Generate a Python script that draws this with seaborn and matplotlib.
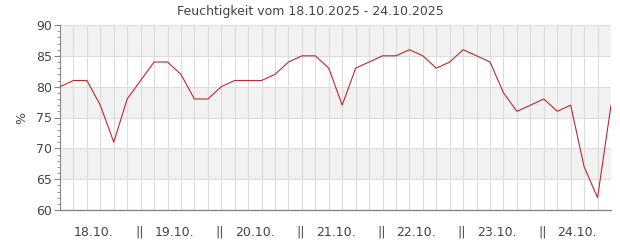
import matplotlib
matplotlib.use("Agg")
import matplotlib.pyplot as plt
import seaborn as sns
import pandas as pd
import numpy as np
from matplotlib.ticker import MultipleLocator

title = "Feuchtigkeit vom 18.10.2025 - 24.10.2025"
ylabel = "%"
day_labels = ["18.10.", "19.10.", "20.10.", "21.10.", "22.10.", "23.10.", "24.10."]
humidity = [80, 81, 81, 77, 71, 78,
            81, 84, 84, 82, 78, 78,
            80, 81, 81, 81, 82, 84,
            85, 85, 83, 77, 83, 84,
            85, 85, 86, 85, 83, 84,
            86, 85, 84, 79, 76, 77,
            78, 76, 77, 67, 62, 77]

sns.set_theme(style="white")
plt.rcParams['font.family'] = ['DejaVu Sans']

df = pd.DataFrame({"idx": np.arange(len(humidity)), "val": humidity})

fig = plt.figure(figsize=(6.2, 2.5), dpi=100)
ax = fig.add_axes([60/620, 40/250, 551/620, 185/250])

# alternating bands
for lo in (65, 75, 85):
    ax.axhspan(lo, lo + 5, color="#f2f2f2", zorder=0, lw=0)

sns.lineplot(data=df, x="idx", y="val", ax=ax, color="#c0282d", lw=0.8, zorder=3)

ax.set_xlim(0, len(humidity) - 1)
ax.set_ylim(60, 90)
ax.set_yticks([60, 65, 70, 75, 80, 85, 90])
ax.yaxis.set_minor_locator(MultipleLocator(1))
ax.set_xticks(np.arange(len(humidity)))
ax.set_xticklabels([])
ax.grid(True, axis="both", which="major", color="#dddddd", lw=0.8, zorder=1)
ax.tick_params(axis="x", length=0)
ax.tick_params(axis="y", which="major", length=4, width=0.8, color="#888888",
               labelsize=9, labelcolor="#444444", pad=2, left=True)
ax.tick_params(axis="y", which="minor", length=2, width=0.6, color="#888888", left=True)

for s in ("top", "right"):
    ax.spines[s].set_visible(False)
ax.spines["left"].set_color("#888888")
ax.spines["bottom"].set_color("#888888")
ax.spines["left"].set_linewidth(0.8)
ax.spines["bottom"].set_linewidth(1.0)

ax.set_xlabel("")
ax.set_ylabel(ylabel, fontsize=9, color="#444444", labelpad=5)

trans = ax.get_xaxis_transform()
for i, lab in enumerate(day_labels):
    ax.text(6 * i + 2.5, -0.12, lab, transform=trans, ha="center", va="center",
            fontsize=9, color="#444444")
    if i < len(day_labels) - 1:
        ax.text(6 * i + 5.9, -0.12, "||", transform=trans, ha="center", va="center",
                fontsize=9, color="#444444")

fig.suptitle(title, x=0.5, y=1 - 12/250, va="center", fontsize=9, color="#444444")

fig.savefig("out.png", dpi=100)
